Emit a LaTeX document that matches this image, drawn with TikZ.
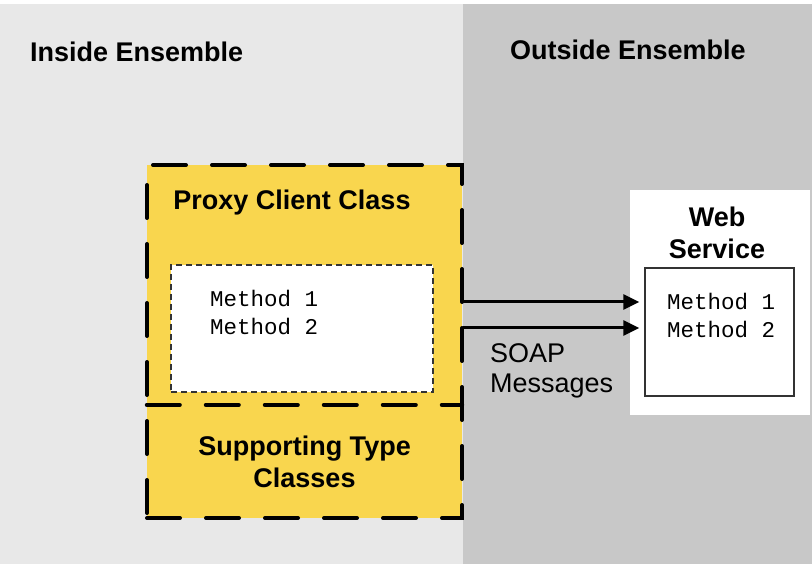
\documentclass[tikz,border=0pt]{standalone}
\usepackage{fontspec}
\setmainfont{Liberation Sans}
\setmonofont{Liberation Mono}
\usetikzlibrary{arrows.meta,positioning}

\definecolor{insidegray}{HTML}{E8E8E8}
\definecolor{outsidegray}{HTML}{C8C8C8}
\definecolor{proxyyellow}{HTML}{F9D64E}

\tikzset{
  title/.style={font=\fontsize{27}{32}\selectfont\bfseries, inner sep=0pt},
  plain/.style={font=\fontsize{27}{30}\selectfont, inner sep=0pt},
  code/.style={font=\fontsize{22.5}{28}\selectfont\ttfamily, align=left, inner sep=0pt},
  classline/.style={draw=black, line width=4pt, line cap=round, dash pattern=on 33pt off 26pt},
  classbox/.style={classline, fill=proxyyellow, inner sep=0pt},
  callbox/.style={draw=black!80, fill=white, line width=1.3pt, inner sep=0pt},
  msg/.style={-{Triangle[length=16pt,width=15pt]}, line width=3pt, shorten >=5pt},
}

\begin{document}
\begin{tikzpicture}[x=1pt,y=-1pt]
\useasboundingbox (0,0) rectangle (812,564);
\fill[white] (0,0) rectangle (812,564);
\fill[insidegray] (0,4) rectangle (463,564);
\fill[outsidegray] (463,4) rectangle (812,564);

\node[title, anchor=west] (inside) at (30,52) {Inside Ensemble};
\node[title, anchor=west] (outside) at (510,50) {Outside Ensemble};

% proxy client and its supporting types
\node[classbox, minimum width=315pt, minimum height=353pt] (proxy) at (304.5,341.5) {};
\node[inner sep=0pt, minimum width=315pt, minimum height=113pt] (support) at (304.5,461.5) {};
\draw[classline] (support.north west) -- (support.north east);
\node[title] (proxytitle) at (292,203) {Proxy Client Class};
\node[title, align=center] (supporttitle) at (support) {Supporting Type\\Classes};

\node[callbox, dash pattern=on 6pt off 4pt, minimum width=262pt, minimum height=127pt] (calls) at (302,328.5) {};
\node[code, anchor=north west] (callnames) at (210,290) {Method 1\\Method 2};

% web service
\node[fill=white, minimum width=180pt, minimum height=225pt] (service) at (720,302.5) {};
\node[title, align=center] (servicetitle) at (717,233) {Web\\Service};
\node[callbox, minimum width=149pt, minimum height=128pt] (endpoint) at (719.5,332) {};
\node[code, anchor=north west] (endpointnames) at (667,293) {Method 1\\Method 2};

% soap messages
\coordinate (m1) at (463,302);
\coordinate (m2) at (463,328);
\draw[msg] (m1) -- (m1 -| endpoint.west);
\draw[msg] (m2) -- (m2 -| endpoint.west);
\node[plain, align=left, anchor=west] (soap) at (490,371) {SOAP\\Messages};

\end{tikzpicture}
\end{document}
